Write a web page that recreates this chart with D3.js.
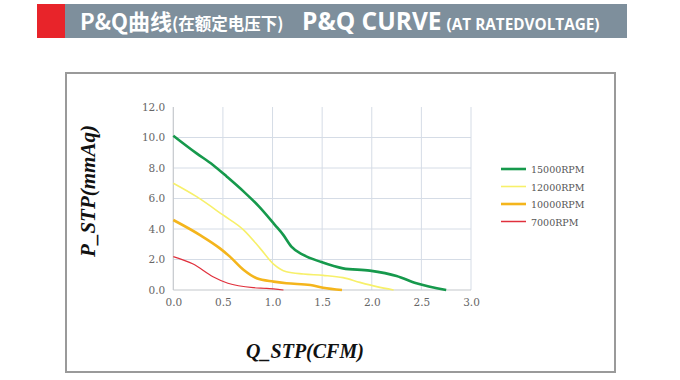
<!DOCTYPE html>
<html><head><meta charset="utf-8">
<script src="https://cdn.jsdelivr.net/npm/d3@7"></script>
<style>body{margin:0;background:#fff}svg{display:block}</style>
</head><body>
<svg id="c" width="680" height="380"></svg>
<script>
const seriesNames = ["15000RPM","12000RPM","10000RPM","7000RPM"];
const seriesColors = ["#16994c","#f7f06a","#f4b51c","#e0303c"];
const seriesWidths = [2.6,1.6,2.6,1.2];
const q15000 = [0,0.235,0.40,0.54,0.71,0.86,1.025,1.11,1.19,1.31,1.48,1.71,1.98,2.25,2.45,2.75];
const p15000 = [10.12,8.96,8.2,7.43,6.45,5.5,4.26,3.6,2.84,2.3,1.86,1.42,1.27,0.92,0.44,0];
const q12000 = [0,0.235,0.50,0.71,0.875,1.01,1.14,1.31,1.51,1.71,1.88,2.05,2.22];
const p12000 = [7.0,6.12,4.92,3.93,2.73,1.7,1.2,1.05,0.96,0.81,0.5,0.22,0];
const q10000 = [0,0.27,0.47,0.57,0.71,0.84,1.01,1.14,1.38,1.51,1.70];
const p10000 = [4.59,3.6,2.73,2.19,1.31,0.77,0.55,0.44,0.33,0.15,0];
const q7000 = [0,0.2,0.40,0.55,0.81,0.94,1.11];
const p7000 = [2.19,1.7,0.87,0.44,0.15,0.11,0];
const xTicks = [0,0.5,1.0,1.5,2.0,2.5,3.0];
const yTicks = [0,2,4,6,8,10,12];
const titleCN = "P&Q曲线", subCN = "(在额定电压下)", titleEN = "P&Q CURVE", subEN = "(AT RATEDVOLTAGE)";
const xTitle = "Q_STP(CFM)", yTitle = "P_STP(mmAq)";

const svg = d3.select("#c");
// header
svg.append("rect").attr("x",37).attr("y",4).attr("width",28).attr("height",34).attr("fill","#e8242a");
svg.append("rect").attr("x",65).attr("y",4).attr("width",562).attr("height",34).attr("fill","#7e8f9c");
const h = svg.append("text").attr("x",80).attr("y",30).attr("fill","#fff").attr("font-family","'Noto Sans CJK SC','Open Sans',sans-serif").attr("font-weight","bold");
h.append("tspan").attr("font-size",22).text(titleCN);
h.append("tspan").attr("font-size",16.5).text(subCN);
const h2 = svg.append("text").attr("x",302).attr("y",30).attr("fill","#fff").attr("font-family","'Open Sans',sans-serif").attr("font-weight","bold");
h2.append("tspan").attr("font-size",24.5).text(titleEN);
h2.append("tspan").attr("font-size",15.3).attr("dx",5).text(subEN);

// frame
svg.append("rect").attr("x",66).attr("y",73).attr("width",549).attr("height",299).attr("fill","none").attr("stroke","#9a9a9a").attr("stroke-width",2);

const x = d3.scaleLinear().domain([0,3]).range([173.3,471]);
const y = d3.scaleLinear().domain([0,12]).range([290,107]);
const g = svg.append("g");
// gridlines
g.selectAll(".vg").data(xTicks.slice(1)).join("line").attr("x1",d=>x(d)).attr("x2",d=>x(d)).attr("y1",y(12)).attr("y2",y(0)).attr("stroke","#d5dce6").attr("stroke-width",1);
g.selectAll(".hg").data(yTicks.slice(1,-1)).join("line").attr("x1",x(0)).attr("x2",x(3)).attr("y1",d=>y(d)).attr("y2",d=>y(d)).attr("stroke","#d5dce6").attr("stroke-width",1);
// axes
const xa = g.append("g").attr("transform",`translate(0,${y(0)})`).call(d3.axisBottom(x).tickValues(xTicks).tickFormat(d3.format(".1f")).tickSize(0).tickPadding(9));
const ya = g.append("g").attr("transform",`translate(${x(0)},0)`).call(d3.axisLeft(y).tickValues(yTicks).tickFormat(d3.format(".1f")).tickSize(0).tickPadding(8));
[xa,ya].forEach(a=>{a.attr("font-family","'DejaVu Serif',serif").attr("font-size",10.5);
  a.select(".domain").attr("stroke","#c4c8cc").attr("stroke-width",1.2);
  a.selectAll("text").attr("fill","#666").style("font-family","'DejaVu Serif',serif").style("font-size","10.5px");});
ya.select(".domain").attr("d",`M0,${y(12)}V${y(0)}`);
xa.select(".domain").attr("d",`M${x(0)},0H${x(3)}`);

// lines
const qs=[q15000,q12000,q10000,q7000], ps=[p15000,p12000,p10000,p7000];
const line = d3.line().x(d=>x(d[0])).y(d=>y(d[1])).curve(d3.curveMonotoneX);
[3,2,1,0].forEach(i=>{
  const pts = qs[i].map((q,j)=>[q,ps[i][j]]);
  g.append("path").attr("d",line(pts)).attr("fill","none").attr("stroke",seriesColors[i]).attr("stroke-width",seriesWidths[i]).attr("stroke-linejoin","round");
});

// legend
seriesNames.forEach((n,i)=>{
  const yy = 169 + i*17.5;
  svg.append("line").attr("x1",501).attr("x2",526).attr("y1",yy).attr("y2",yy).attr("stroke",seriesColors[i]).attr("stroke-width",Math.max(1.5,seriesWidths[i]));
  svg.append("text").attr("x",531).attr("y",yy+4).style("font-family","'DejaVu Serif',serif").style("font-size","9.5px").attr("fill","#555").text(n);
});

// axis titles
svg.append("text").attr("x",305).attr("y",358).attr("text-anchor","middle").attr("font-family","'Liberation Serif',serif").attr("font-weight","bold").attr("font-style","italic").attr("font-size",20).attr("fill","#111").text(xTitle);
svg.append("text").attr("transform","translate(95,191) rotate(-90)").attr("text-anchor","middle").attr("font-family","'Liberation Serif',serif").attr("font-weight","bold").attr("font-style","italic").attr("font-size",21).attr("fill","#111").text(yTitle);
</script>
</body></html>
